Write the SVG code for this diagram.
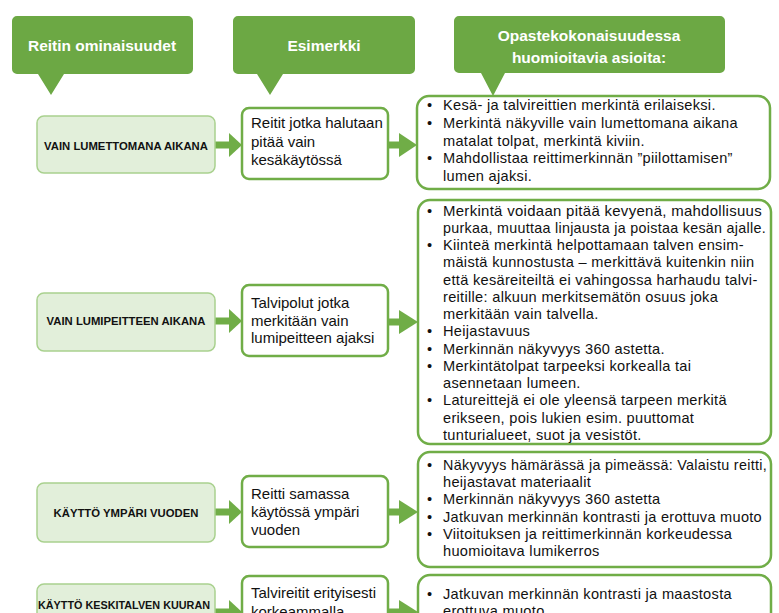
<svg xmlns="http://www.w3.org/2000/svg" width="779" height="613" viewBox="0 0 779 613">
<style>
.hdr{fill:#6ca844}
.ht{font-family:"Liberation Sans",Arial,sans-serif;font-weight:bold;font-size:15.5px;fill:#fff;text-anchor:middle}
.lb{fill:#e2efda;stroke:#a9d18e;stroke-width:1.5}
.lt{font-family:"Liberation Sans",Arial,sans-serif;font-weight:bold;font-size:11.3px;fill:#111;text-anchor:middle}
.mb{fill:#fff;stroke:#70ad47;stroke-width:2.5}
.mt{font-family:"Liberation Sans",Arial,sans-serif;font-size:15px;fill:#111}
.rb{fill:#fff;stroke:#70ad47;stroke-width:2.5}
.rt{font-family:"Liberation Sans",Arial,sans-serif;font-size:14.6px;fill:#111;letter-spacing:0.3px}
.ar{fill:#70ad47}
</style>
<rect width="779" height="613" fill="#fff"/>
<g id="header1">
<path class="hdr" d="M17,16 H188 A5,5 0 0 1 193,21 V69 A5,5 0 0 1 188,74 H64 L51,95 L38,74 H17 A5,5 0 0 1 12,69 V21 A5,5 0 0 1 17,16 Z"/>
<text class="ht" x="102" y="51">Reitin ominaisuudet</text>
</g>
<g id="header2">
<path class="hdr" d="M238,16 H410 A5,5 0 0 1 415,21 V69 A5,5 0 0 1 410,74 H283 L270,95 L257,74 H238 A5,5 0 0 1 233,69 V21 A5,5 0 0 1 238,16 Z"/>
<text class="ht" x="324" y="51">Esimerkki</text>
</g>
<g id="header3">
<path class="hdr" d="M459,16 H720 A5,5 0 0 1 725,21 V68 A5,5 0 0 1 720,73 H505 L493,96 L481,73 H459 A5,5 0 0 1 454,68 V21 A5,5 0 0 1 459,16 Z"/>
<text class="ht" x="589" y="41">Opastekokonaisuudessa</text>
<text class="ht" x="589" y="63">huomioitavia asioita:</text>
</g>

<g id="connectors">
<rect class="ar" x="215" y="141.5" width="15" height="7"/>
<polygon class="ar" points="229,133 242,145 229,157"/>
<rect class="ar" x="387" y="141.5" width="13" height="7"/>
<polygon class="ar" points="399,133 417,145 399,157"/>

<rect class="ar" x="215" y="317.5" width="15" height="7"/>
<polygon class="ar" points="229,309 242,321 229,333"/>
<rect class="ar" x="387" y="318.5" width="13" height="7"/>
<polygon class="ar" points="399,310 418,322 399,334"/>

<rect class="ar" x="215" y="508.5" width="15" height="7"/>
<polygon class="ar" points="229,500 242,512 229,524"/>
<rect class="ar" x="387" y="508.5" width="13" height="7"/>
<polygon class="ar" points="399,500 418,512 399,524"/>

<rect class="ar" x="215" y="608.5" width="15" height="7"/>
<polygon class="ar" points="229,600 242,612 229,624"/>
<rect class="ar" x="387" y="608.5" width="13" height="7"/>
<polygon class="ar" points="399,600 418,612 399,624"/>
</g>

<g id="row1-feature">
<rect class="lb" x="37" y="116" width="178" height="57" rx="7"/>
<text class="lt" x="126" y="150">VAIN LUMETTOMANA AIKANA</text>
</g>
<g id="row1-example">
<rect class="mb" x="242" y="108" width="146" height="71" rx="7"/>
<text class="mt" x="251" y="128">Reitit jotka halutaan</text>
<text class="mt" x="251" y="147">pitää vain</text>
<text class="mt" x="251" y="165">kesäkäytössä</text>
</g>
<g id="row1-notes">
<rect class="rb" x="417" y="96" width="353" height="93" rx="12"/>
<text class="rt"><tspan x="427" y="110">•</tspan><tspan x="443" y="110">Kesä- ja talvireittien merkintä erilaiseksi.</tspan><tspan x="427" y="127.75">•</tspan><tspan x="443" y="127.75">Merkintä näkyville vain lumettomana aikana</tspan><tspan x="443" y="145.5">matalat tolpat, merkintä kiviin.</tspan><tspan x="427" y="163.25">•</tspan><tspan x="443" y="163.25">Mahdollistaa reittimerkinnän ”piilottamisen”</tspan><tspan x="443" y="181">lumen ajaksi.</tspan></text>
</g>

<g id="row2-feature">
<rect class="lb" x="37" y="293" width="178" height="58" rx="7"/>
<text class="lt" x="126" y="325">VAIN LUMIPEITTEEN AIKANA</text>
</g>
<g id="row2-example">
<rect class="mb" x="242" y="285" width="146" height="71" rx="7"/>
<text class="mt" x="251" y="308">Talvipolut jotka</text>
<text class="mt" x="251" y="326">merkitään vain</text>
<text class="mt" x="251" y="343">lumipeitteen ajaksi</text>
</g>
<g id="row2-notes">
<rect class="rb" x="418" y="200" width="353" height="244" rx="12"/>
<text class="rt"><tspan x="427" y="215.7">•</tspan><tspan x="427" y="250.2">•</tspan><tspan x="443" y="250.2">Kiinteä merkintä helpottamaan talven ensim-</tspan><tspan x="443" y="267.45">mäistä kunnostusta – merkittävä kuitenkin niin</tspan><tspan x="443" y="284.7">että kesäreiteiltä ei vahingossa harhaudu talvi-</tspan><tspan x="443" y="301.95">reitille: alkuun merkitsemätön osuus joka</tspan><tspan x="443" y="319.2">merkitään vain talvella.</tspan><tspan x="427" y="336.45">•</tspan><tspan x="443" y="336.45">Heijastavuus</tspan><tspan x="427" y="353.7">•</tspan><tspan x="443" y="353.7">Merkinnän näkyvyys 360 astetta.</tspan><tspan x="427" y="370.95">•</tspan><tspan x="443" y="370.95">Merkintätolpat tarpeeksi korkealla tai</tspan><tspan x="443" y="388.2">asennetaan lumeen.</tspan><tspan x="427" y="405.45">•</tspan><tspan x="443" y="405.45">Latureittejä ei ole yleensä tarpeen merkitä</tspan><tspan x="443" y="422.7">erikseen, pois lukien esim. puuttomat</tspan><tspan x="443" y="439.95">tunturialueet, suot ja vesistöt.</tspan></text>
<text class="rt" x="443" y="215.7" textLength="319" lengthAdjust="spacingAndGlyphs">Merkintä voidaan pitää kevyenä, mahdollisuus</text>
<text class="rt" x="443" y="232.95" textLength="323" lengthAdjust="spacingAndGlyphs">purkaa, muuttaa linjausta ja poistaa kesän ajalle.</text>
</g>

<g id="row3-feature">
<rect class="lb" x="37" y="483" width="178" height="59" rx="7"/>
<text class="lt" x="126" y="517">KÄYTTÖ YMPÄRI VUODEN</text>
</g>
<g id="row3-example">
<rect class="mb" x="242" y="476" width="146" height="71" rx="7"/>
<text class="mt" x="251" y="499">Reitti samassa</text>
<text class="mt" x="251" y="517">käytössä ympäri</text>
<text class="mt" x="251" y="535">vuoden</text>
</g>
<g id="row3-notes">
<rect class="rb" x="418" y="452" width="353" height="115" rx="12"/>
<text class="rt"><tspan x="427" y="470">•</tspan><tspan x="443" y="487.2">heijastavat materiaalit</tspan><tspan x="427" y="504.4">•</tspan><tspan x="443" y="504.4">Merkinnän näkyvyys 360 astetta</tspan><tspan x="427" y="521.6">•</tspan><tspan x="427" y="538.8">•</tspan><tspan x="443" y="538.8">Viitoituksen ja reittimerkinnän korkeudessa</tspan><tspan x="443" y="556">huomioitava lumikerros</tspan></text>
<text class="rt" x="443" y="470" textLength="324" lengthAdjust="spacingAndGlyphs">Näkyvyys hämärässä ja pimeässä: Valaistu reitti,</text>
<text class="rt" x="443" y="521.6" textLength="319" lengthAdjust="spacingAndGlyphs">Jatkuvan merkinnän kontrasti ja erottuva muoto</text>
</g>

<g id="row4-feature">
<rect class="lb" x="37" y="584" width="178" height="59" rx="7"/>
<text class="lt" x="124" y="609" textLength="172" lengthAdjust="spacingAndGlyphs">KÄYTTÖ KESKITALVEN KUURAN</text>
</g>
<g id="row4-example">
<rect class="mb" x="242" y="576" width="146" height="71" rx="7"/>
<text class="mt" x="251" y="598">Talvireitit erityisesti</text>
<text class="mt" x="251" y="617">korkeammalla</text>
</g>
<g id="row4-notes">
<rect class="rb" x="418" y="575" width="353" height="70" rx="12"/>
<text class="rt"><tspan x="427" y="599">•</tspan><tspan x="443" y="599">Jatkuvan merkinnän kontrasti ja maastosta</tspan><tspan x="443" y="616">erottuva muoto</tspan></text>
</g>
</svg>
